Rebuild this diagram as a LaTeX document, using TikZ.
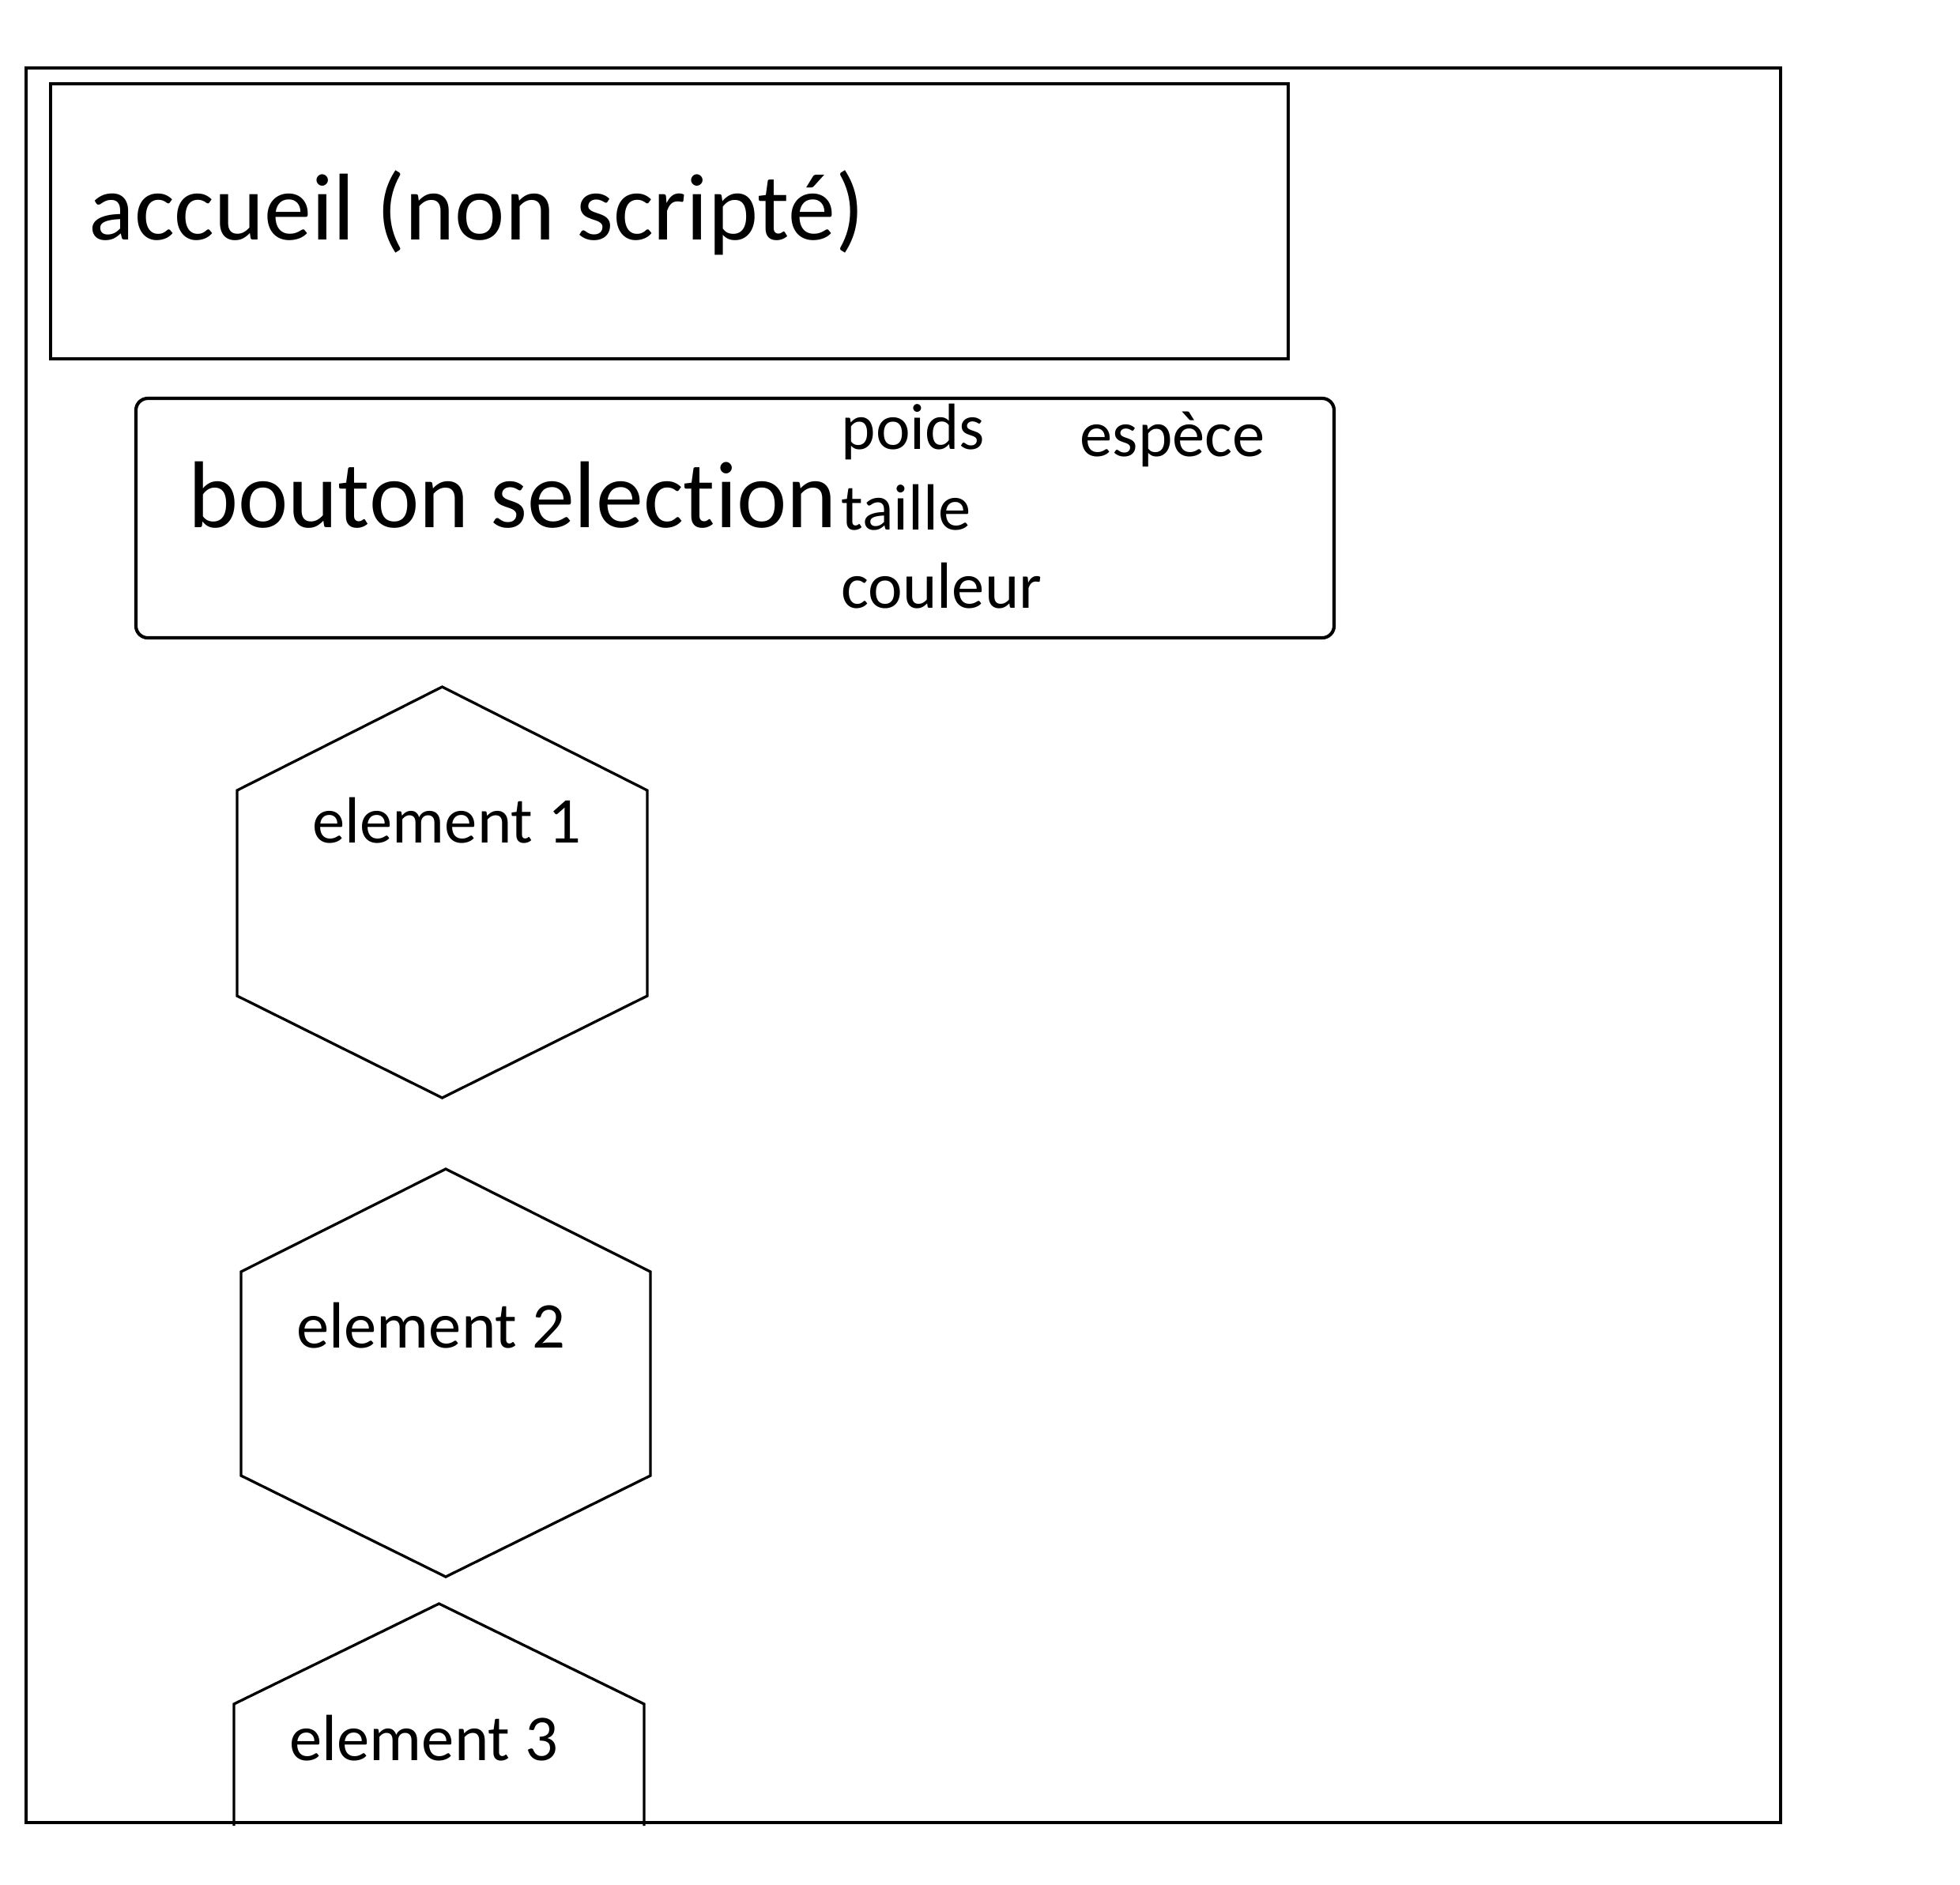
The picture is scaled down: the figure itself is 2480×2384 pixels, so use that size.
\documentclass[tikz,border=0pt]{standalone}
\usepackage{fontspec}
\setmainfont{Carlito}[Ligatures=NoCommon]
\begin{document}
\begin{tikzpicture}[x=0.3pt,y=-0.3pt,
  bigtxt/.style={anchor=base west,inner sep=0pt,font=\fontsize{36pt}{43pt}\selectfont},
  smalltxt/.style={anchor=base west,inner sep=0pt,font=\fontsize{24.8pt}{30pt}\selectfont},
  frameline/.style={draw=black,line width=1.25pt},
  hexline/.style={draw=black,line width=1pt,line join=miter}]
\useasboundingbox (0,0) rectangle (2480,2384);
% outer frame
\draw[frameline] (33,86) rectangle (2253,2306);
% accueil box
\draw[frameline] (64,106) rectangle (1630,454);
\node[bigtxt] (accueil) at (112,303) {accueil (non scripté)};
% bouton box
\draw[frameline,rounded corners=4.5pt] (172,504) rectangle (1688,807);
\node[bigtxt] (bouton) at (238,667) {bouton selection};
\node[smalltxt] (poids) at (1064,568) {poids};
\node[smalltxt] (taille) at (1064,670) {taille};
\node[smalltxt] (couleur) at (1064,769) {couleur};
\node[smalltxt] (espece) at (1366,577) {espèce};
% hexagons
\draw[hexline] (559.5,869) -- (819,1000) -- (819,1260) -- (559.5,1389) -- (300,1260) -- (300,1000) -- cycle;
\node[smalltxt] (el1) at (395,1066) {element 1};
\draw[hexline] (564,1479) -- (823,1609) -- (823,1867) -- (564,1995) -- (305,1867) -- (305,1609) -- cycle;
\node[smalltxt] (el2) at (375,1705) {element 2};
\draw[hexline] (296,2310) -- (296,2156) -- (555.5,2029) -- (815,2156) -- (815,2310);
\node[smalltxt] (el3) at (366,2227) {element 3};
\end{tikzpicture}
\end{document}
